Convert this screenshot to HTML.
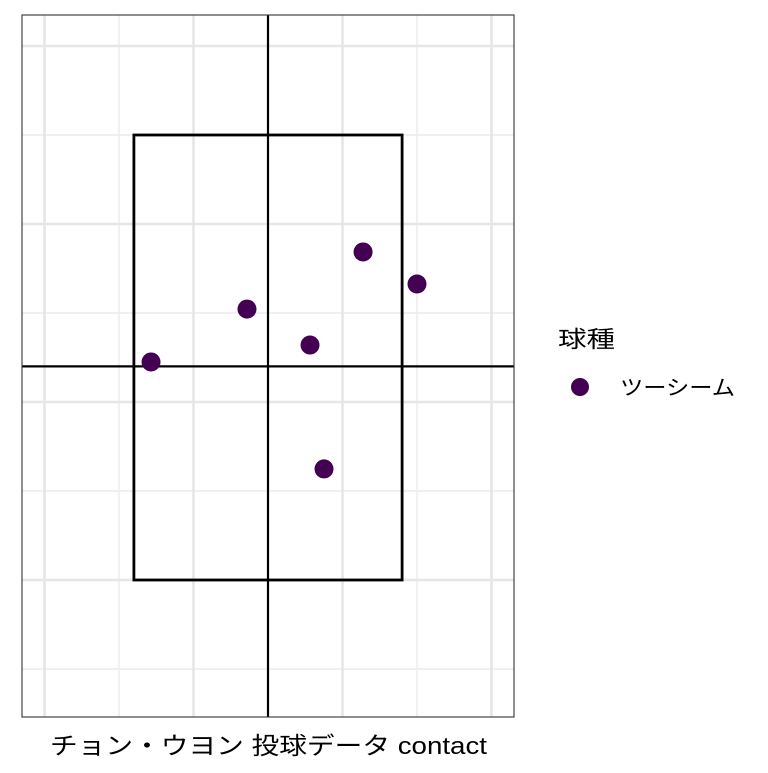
<!DOCTYPE html>
<html><head><meta charset="utf-8"><style>
body{margin:0;background:#fff;}
svg text{font-family:"Liberation Sans","Noto Sans CJK JP",sans-serif;}
</style></head><body>
<svg id="chart" width="768" height="768" viewBox="0 0 768 768">
<rect width="768" height="768" fill="#fff"/>
<g id="grid"></g>
<g id="zone"></g>
<g id="points"></g>
<rect x="22" y="15" width="492" height="702" fill="none" stroke="#333" stroke-width="1.1"/>
<text x="50" y="754" font-size="24" textLength="437" lengthAdjust="spacingAndGlyphs" fill="#000">チョン・ウヨン 投球データ contact</text>
<text x="558" y="347" font-size="23" textLength="57" lengthAdjust="spacingAndGlyphs" fill="#000">球種</text>
<circle cx="580" cy="387" r="9" fill="#440154"/>
<text x="620" y="395" font-size="21" textLength="115" lengthAdjust="spacingAndGlyphs" fill="#000">ツーシーム</text>
</svg>
<script>
const pitchTypes=["ツーシーム","ツーシーム","ツーシーム","ツーシーム","ツーシーム","ツーシーム"];
const plateX=[-0.785,-0.141,0.282,0.638,1.0,0.376];
const plateZ=[2.225,2.522,2.32,2.843,2.663,1.624];
const xMajor=[-1.5,-0.5,0.5,1.5];
const xMinor=[-1,0,1];
const yMajor=[1,2,3,4];
const yMinor=[0.5,1.5,2.5,3.5];
const zoneX=[-0.9,0.9];
const zoneZ=[1.0,3.5];
const centerX=0, centerZ=2.2;
const sx=v=>268+v*149;
const sy=v=>402-(v-2)*178;
const NS="http://www.w3.org/2000/svg";
function mk(p,t,a){const e=document.createElementNS(NS,t);for(const k in a)e.setAttribute(k,a[k]);p.appendChild(e);return e;}
const g=document.getElementById('grid');
xMinor.forEach(v=>{const l=mk(g,'line',{x1:sx(v),x2:sx(v),y1:15,y2:717,stroke:'#ebebeb','stroke-width':1.4});

});
yMinor.forEach(v=>{const l=mk(g,'line',{x1:22,x2:514,y1:sy(v),y2:sy(v),stroke:'#ebebeb','stroke-width':1.4});

});
xMajor.forEach(v=>{const l=mk(g,'line',{x1:sx(v),x2:sx(v),y1:15,y2:717,stroke:'#e6e6e6','stroke-width':2.6});

});
yMajor.forEach(v=>{const l=mk(g,'line',{x1:22,x2:514,y1:sy(v),y2:sy(v),stroke:'#e6e6e6','stroke-width':2.6});

});
const z=document.getElementById('zone');
const vl=mk(z,'line',{x1:sx(centerX),x2:sx(centerX),y1:15,y2:717,stroke:'#000','stroke-width':2.2});


const hl=mk(z,'line',{x1:22,x2:514,y1:sy(centerZ),y2:sy(centerZ),stroke:'#000','stroke-width':2.2});


const zr=mk(z,'rect',{x:sx(zoneX[0]),y:sy(zoneZ[1]),width:sx(zoneX[1])-sx(zoneX[0]),height:sy(zoneZ[0])-sy(zoneZ[1]),fill:'none',stroke:'#000','stroke-width':2.8});


const p=document.getElementById('points');
plateX.forEach((v,i)=>{const c=mk(p,'circle',{cx:sx(v),cy:sy(plateZ[i]),r:9.5,fill:'#440154'});

});
</script>
</body></html>
